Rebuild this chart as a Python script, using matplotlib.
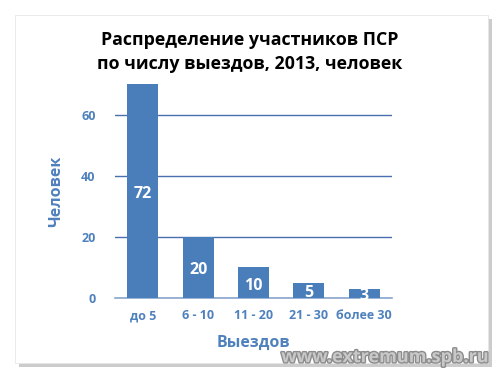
import matplotlib
matplotlib.use("Agg")
import matplotlib.pyplot as plt
import matplotlib.patheffects as pe
from matplotlib.patches import Rectangle
import numpy as np

plt.rcParams['font.family'] = ['Open Sans', 'DejaVu Sans']

categories = ["до 5", "6 - 10", "11 - 20", "21 - 30", "более 30"]
values = [72, 20, 10, 5, 3]
yticks = [0, 20, 40, 60]

bar_color = "#4a7ebb"
text_blue = "#4f81bd"
grid_color = "#4a6fae"

fig = plt.figure(figsize=(5, 3.8), dpi=100)

# frame with shadow
frame = Rectangle((0.03, 0.045), 0.945, 0.915, transform=fig.transFigure,
                  facecolor="white", edgecolor="#e6e6e6", lw=0.6, zorder=-5,
                  path_effects=[pe.SimplePatchShadow(offset=(3, -3), shadow_rgbFace="#9a9a9a", alpha=0.5),
                                pe.Normal()])
fig.patches.append(frame)

ax = fig.add_axes([0.23, 0.216, 0.554, 0.562])
ax.set_facecolor("none")
ax.set_zorder(2)
x = np.arange(len(categories))
ax.bar(x, values, width=0.56, color=bar_color, zorder=3)
ax.set_ylim(0, 70)
ax.set_xlim(-0.5, len(categories) - 0.5)
ax.set_yticks(yticks)
ax.yaxis.grid(True, color=grid_color, lw=1.0, zorder=0)
for s in ["top", "right", "left"]:
    ax.spines[s].set_visible(False)
ax.spines["bottom"].set_color("#8aa6cf")
ax.spines["bottom"].set_linewidth(1.2)
ax.tick_params(axis="both", length=0, colors=text_blue, labelsize=9)
ax.tick_params(axis="y", pad=14)
ax.tick_params(axis="x", pad=8)
ax.set_xticks(x)
ax.set_xticklabels(categories, fontweight="bold", color=text_blue)
for lab in ax.get_yticklabels():
    lab.set_fontweight("bold")

for xi, v in zip(x, values):
    ax.text(xi, min(v, 70) / 2 - 1, str(v), ha="center", va="center",
            color="white", fontsize=11.5, fontweight="bold", zorder=4)

ax.set_ylabel("Человек", color=text_blue, fontsize=11.5, fontweight="bold", labelpad=12)
ax.set_xlabel("Выездов", color=text_blue, fontsize=11.5, fontweight="bold", labelpad=9)

fig.text(0.5, 0.863, "Распределение участников ПСР\nпо числу выездов, 2013, человек",
         ha="center", va="center", fontsize=12.8, fontweight="bold", color="black",
         linespacing=1.4)

fig.text(0.975, 0.06, "www.extremum.spb.ru", ha="right", va="center", fontsize=13,
         fontweight="bold", color="#c8c8c8",
         path_effects=[pe.withStroke(linewidth=2, foreground="#8c8c8c")])

fig.savefig("out.png", dpi=100)
